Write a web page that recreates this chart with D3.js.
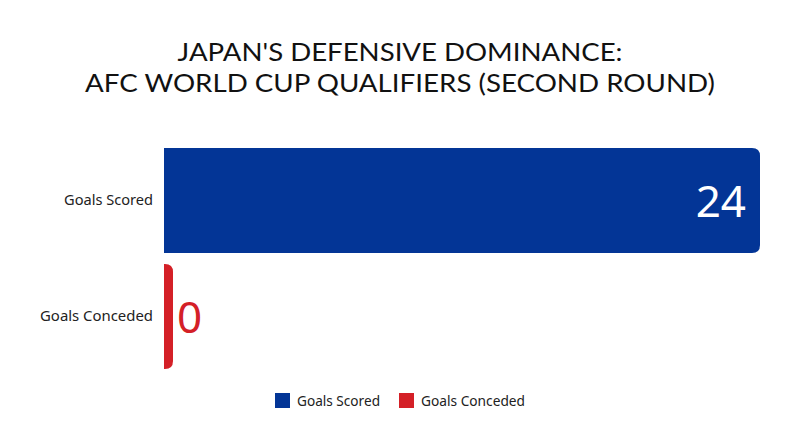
<!DOCTYPE html>
<html><head><meta charset="utf-8">
<script src="https://cdn.jsdelivr.net/npm/d3@7"></script>
<style>
body{margin:0;background:#fff;}
svg{display:block;font-family:"Noto Sans",sans-serif;}
</style></head>
<body>
<svg id="c" width="800" height="447"></svg>
<script>
const categories = ["Goals Scored", "Goals Conceded"];
const values = [24, 0];
const colors = ["#033596", "#D42027"];
const titleLines = ["JAPAN'S DEFENSIVE DOMINANCE:", "AFC WORLD CUP QUALIFIERS (SECOND ROUND)"];

const svg = d3.select("#c");
const x = d3.scaleLinear().domain([0, 24]).range([164, 760]);
const y = d3.scaleBand().domain(categories).range([142.5, 374.5]).paddingInner(0.095).paddingOuter(0.0475);

// title
const titleW = [445, 630];
svg.append("g").selectAll("text").data(titleLines).join("text")
  .attr("x", 400).attr("y", (d,i) => 61 + i*31)
  .attr("text-anchor", "middle")
  .attr("font-family", "Lato").attr("font-size", 25.5).attr("fill", "#111")
  .attr("textLength", (d,i) => titleW[i]).attr("lengthAdjust", "spacingAndGlyphs")
  .text(d => d);

// bars with rounded right corners
const minW = 9, r = 8;
function barPath(x0, x1, y0, h) {
  const w = x1 - x0;
  const rr = Math.min(r, w, h/2);
  return `M${x0},${y0}H${x1-rr}Q${x1},${y0} ${x1},${y0+rr}V${y0+h-rr}Q${x1},${y0+h} ${x1-rr},${y0+h}H${x0}Z`;
}
svg.append("g").selectAll("path").data(categories).join("path")
  .attr("d", (c,i) => barPath(x(0), Math.max(x(values[i]), x(0)+minW), y(c), y.bandwidth()))
  .attr("fill", (c,i) => colors[i]);

// value labels
svg.append("g").selectAll("text").data(categories).join("text")
  .attr("x", (c,i) => values[i] > 2 ? x(values[i]) - 14 : Math.max(x(values[i]), x(0)+minW) + 4)
  .attr("y", (c,i) => y(c) + y.bandwidth()/2 + 16)
  .attr("text-anchor", (c,i) => values[i] > 2 ? "end" : "start")
  .attr("font-size", 44)
  .attr("fill", (c,i) => values[i] > 2 ? "#fff" : colors[i])
  .text((c,i) => values[i]);

// y axis labels
const labW = {"Goals Scored": 89, "Goals Conceded": 113};
const yAxis = d3.axisLeft(y).tickSize(0).tickPadding(11);
const ag = svg.append("g").attr("transform", `translate(${x(0)},0)`).call(yAxis);
ag.select(".domain").remove();
ag.selectAll("text").attr("font-size", 14).attr("fill", "#222").attr("font-family", "Noto Sans")
  .attr("textLength", d => labW[d]).attr("lengthAdjust", "spacingAndGlyphs");

// legend
const legX = [275, 399], legTW = [83, 104];
const lg = svg.append("g").selectAll("g").data(categories).join("g")
  .attr("transform", (c,i) => `translate(${legX[i]},393)`);
lg.append("rect").attr("width", 15).attr("height", 15).attr("fill", (c,i) => colors[i]);
lg.append("text").attr("x", 22).attr("y", 12.5).attr("font-size", 14).attr("fill", "#222")
  .attr("textLength", (c,i) => legTW[i]).attr("lengthAdjust", "spacingAndGlyphs")
  .text(c => c);
</script>
</body></html>
